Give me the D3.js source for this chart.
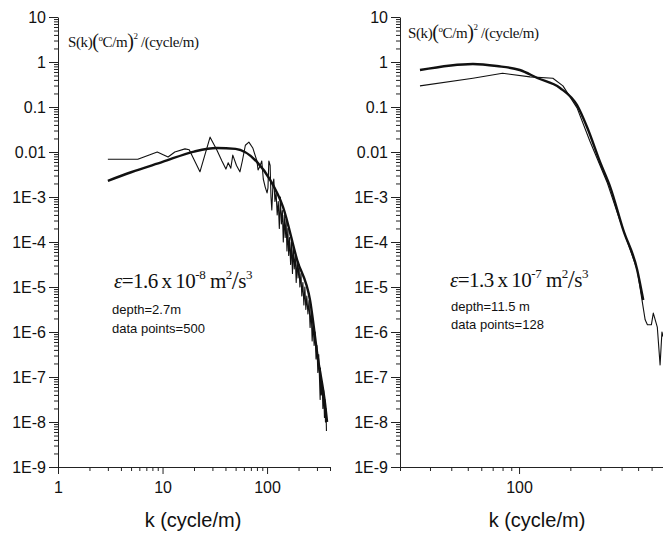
<!DOCTYPE html>
<html>
<head>
<meta charset="utf-8">
<script src="https://cdn.jsdelivr.net/npm/d3@7"></script>
<style>
  html, body { margin: 0; padding: 0; background: #fff; }
  svg { display: block; }
  .tick text { font-family: "Liberation Sans", Arial, sans-serif; font-size: 16px; fill: #111; }
  .domain, .tick line { stroke: #222; }
</style>
</head>
<body>
<svg id="chart" width="663" height="535"></svg>
<script>
// ---- Data: temperature-gradient spectra, S(k) vs wavenumber k ----

// Decade ticks on the spectral axis and their printed labels
const yTickValues = [1e-9, 1e-8, 1e-7, 1e-6, 1e-5, 1e-4, 1e-3, 1e-2, 1e-1, 1, 10];
const yTickLabels = ["1E-9", "1E-8", "1E-7", "1E-6", "1E-5", "1E-4", "1E-3", "0.01", "0.1", "1", "10"];

// Panel A (depth 2.7 m): measured spectrum, wavenumber (cycle/m) and log10 S
const kMeasuredA = [3, 4, 5.8, 8.9, 11.3, 13.1, 16.4, 18, 22.8, 28.5, 33, 37, 40.4, 42.5, 45, 47, 51, 55, 58, 62, 67, 73,
  80, 82, 85, 89, 92, 96, 100, 102, 104, 107, 109, 111, 114, 116, 119, 122, 125, 128, 131, 134, 137, 140, 143, 146,
  149, 152, 155, 158, 161, 164, 168, 171, 175, 178, 182, 186, 190, 194, 198, 202, 206, 211, 215, 220, 225, 230, 235,
  240, 246, 252, 258, 264, 270, 276, 282, 288, 294, 300, 306, 312, 318, 322, 324, 330, 336, 342, 348, 354, 358, 362, 366, 370];
const logSMeasuredA = [-2.16, -2.16, -2.16, -2.0, -2.11, -2.0, -1.93, -1.95, -2.44, -1.67, -1.95, -2.2, -2.38, -2.24, -2.36, -2.07, -2.3, -2.44, -2.2, -1.85, -1.78, -1.91,
  -2.2, -2.4, -2.33, -2.2, -2.6, -2.78, -2.91, -2.8, -2.2, -2.3, -3.0, -3.29, -2.7, -2.6, -3.1, -2.9, -3.4, -3.1, -3.7, -3.0, -3.6, -3.3, -4.0, -3.4,
  -3.9, -3.5, -4.2, -3.7, -4.3, -3.9, -4.5, -4.0, -4.7, -4.1, -4.6, -4.3, -4.9, -4.4, -4.8, -4.5, -5.0, -4.7, -5.2, -4.9, -5.4, -5.0, -5.5,
  -5.2, -5.6, -5.3, -5.9, -5.5, -6.2, -5.8, -6.3, -6.0, -6.6, -6.3, -6.9, -6.5, -7.1, -7.5, -6.8, -7.4, -7.1, -7.7, -7.3, -7.9, -7.5, -8.0, -7.7, -8.2];

// Panel A: fitted model spectrum
const kModelA = [3, 5, 10, 20, 33, 50, 80, 107, 142, 194, 258, 307, 359, 375];
const logSModelA = [-2.64, -2.45, -2.22, -1.99, -1.91, -1.93, -2.22, -2.62, -3.22, -4.4, -5.3, -6.6, -7.6, -8.0];

// Panel B (depth 11.5 m): measured spectrum
const kMeasuredB = [26.2, 53.6, 80, 116, 158, 181, 219, 260, 330, 378, 409, 494, 550, 567, 598, 614, 648, 673, 690, 700];
const logSMeasuredB = [-0.53, -0.36, -0.25, -0.33, -0.36, -0.53, -1.02, -1.75, -2.69, -3.36, -3.73, -4.62, -5.73, -5.84, -5.84, -5.58, -5.89, -6.73, -6.0, -6.1];

// Panel B: fitted model spectrum
const kModelB = [26.2, 53.6, 74, 101, 128, 174, 219, 251, 300, 343, 409, 494, 536];
const logSModelB = [-0.178, -0.044, -0.089, -0.178, -0.356, -0.578, -0.96, -1.45, -2.24, -2.78, -3.73, -4.62, -5.29];

// ---- Layout ----
const svg = d3.select("#chart");
const yTop = 17, yBottom = 467;

const panels = [
  {
    xDomain: [1, 400], xRange: [58, 330],
    xMajor: [1, 10, 100],
    measured: { k: kMeasuredA, s: logSMeasuredA },
    model: { k: kModelA, s: logSModelA },
    title: { x: 68, y: 47 },
    eps: { x: 114, y: 288, mant: "1.6", exp: "-8" },
    notes: { x: 112, y1: 314, y2: 333, depth: "depth=2.7m", pts: "data points=500" },
    xLabelX: 193
  },
  {
    xDomain: [20, 700], xRange: [400, 663],
    xMajor: [100],
    measured: { k: kMeasuredB, s: logSMeasuredB },
    model: { k: kModelB, s: logSModelB },
    title: { x: 408, y: 38 },
    eps: { x: 450, y: 287, mant: "1.3", exp: "-7" },
    notes: { x: 451, y1: 311, y2: 329, depth: "depth=11.5 m", pts: "data points=128" },
    xLabelX: 537
  }
];

function minorTicks(domain) {
  const out = [];
  const lo = Math.floor(Math.log10(domain[0])), hi = Math.ceil(Math.log10(domain[1]));
  for (let e = lo; e <= hi; e++) {
    for (let m = 2; m <= 9; m++) {
      const v = m * Math.pow(10, e);
      if (v >= domain[0] && v <= domain[1]) out.push(v);
    }
  }
  return out;
}

panels.forEach(p => {
  const x = d3.scaleLog().domain(p.xDomain).range(p.xRange);
  const y = d3.scaleLog().domain([1e-9, 10]).range([yBottom, yTop]);
  const g = svg.append("g");
  const x0 = p.xRange[0];

  // y axis: major decades with labels, minor ticks between
  g.append("g").attr("transform", `translate(${x0},0)`)
    .call(d3.axisLeft(y).tickValues(minorTicks([1e-9, 10])).tickSize(4).tickFormat(""))
    .call(a => a.select(".domain").remove());
  g.append("g").attr("transform", `translate(${x0},0)`)
    .call(d3.axisLeft(y).tickValues(yTickValues).tickSize(9).tickPadding(3)
      .tickFormat((d, i) => yTickLabels[i]).tickSizeOuter(0));

  // x axis
  g.append("g").attr("transform", `translate(0,${yBottom})`)
    .call(d3.axisBottom(x).tickValues(minorTicks(p.xDomain)).tickSize(4).tickFormat(""))
    .call(a => a.select(".domain").remove());
  g.append("g").attr("transform", `translate(0,${yBottom})`)
    .call(d3.axisBottom(x).tickValues(p.xMajor).tickSize(7).tickPadding(8)
      .tickFormat(d3.format("d")).tickSizeOuter(0));

  g.selectAll(".tick line, .domain").attr("stroke", "#222").attr("stroke-width", 1);

  const line = d3.line().x(d => x(d[0])).y(d => y(Math.pow(10, d[1])));

  // measured spectrum (thin)
  g.append("path")
    .datum(p.measured.k.map((k, i) => [k, p.measured.s[i]]))
    .attr("fill", "none").attr("stroke", "#111").attr("stroke-width", 1.1)
    .attr("stroke-linejoin", "round")
    .attr("d", line);

  // model spectrum (thick, smooth)
  g.append("path")
    .datum(p.model.k.map((k, i) => [k, p.model.s[i]]))
    .attr("fill", "none").attr("stroke", "#111").attr("stroke-width", 2.4)
    .attr("d", line.curve(d3.curveMonotoneX));

  // y title: S(k)(°C/m)^2 /(cycle/m)
  const t = g.append("text").attr("x", p.title.x).attr("y", p.title.y)
    .attr("font-family", "'Liberation Serif', 'Times New Roman', serif")
    .attr("font-size", 15).attr("fill", "#111").attr("letter-spacing", -0.4);
  t.append("tspan").text("S(k)");
  t.append("tspan").attr("font-size", 20).attr("dy", 1).text("(");
  t.append("tspan").attr("font-size", 9).attr("dy", -7).text("o");
  t.append("tspan").attr("font-size", 15).attr("dy", 6).text("C/m");
  t.append("tspan").attr("font-size", 20).attr("dy", 1).text(")");
  t.append("tspan").attr("font-size", 9).attr("dy", -9).text("2");
  t.append("tspan").attr("font-size", 15).attr("dy", 8).text(" /(cycle/m)");

  // dissipation rate annotation
  const e = g.append("text").attr("x", p.eps.x).attr("y", p.eps.y)
    .attr("font-family", "'Liberation Serif', 'Times New Roman', serif")
    .attr("font-size", 21).attr("fill", "#111").attr("letter-spacing", -0.5);
  e.append("tspan").attr("font-style", "italic").text("ε");
  e.append("tspan").text("=" + p.eps.mant + "\u2009x\u200910");
  e.append("tspan").attr("font-size", 13).attr("dy", -9).text(p.eps.exp);
  e.append("tspan").attr("font-size", 21).attr("dy", 9).text(" m");
  e.append("tspan").attr("font-size", 13).attr("dy", -9).text("2");
  e.append("tspan").attr("font-size", 25).attr("dy", 10).text("/");
  e.append("tspan").attr("font-size", 21).attr("dy", -1).text("s");
  e.append("tspan").attr("font-size", 13).attr("dy", -9).text("3");

  // notes
  g.append("text").attr("x", p.notes.x).attr("y", p.notes.y1)
    .attr("font-family", "'Liberation Sans', Arial, sans-serif").attr("font-size", 13).attr("fill", "#111")
    .text(p.notes.depth);
  g.append("text").attr("x", p.notes.x).attr("y", p.notes.y2)
    .attr("font-family", "'Liberation Sans', Arial, sans-serif").attr("font-size", 13).attr("fill", "#111")
    .text(p.notes.pts);

  // x axis title
  g.append("text").attr("x", p.xLabelX).attr("y", 527).attr("text-anchor", "middle")
    .attr("font-family", "'Liberation Sans', Arial, sans-serif").attr("font-size", 20).attr("fill", "#111")
    .text("k (cycle/m)");
});
</script>
</body>
</html>
